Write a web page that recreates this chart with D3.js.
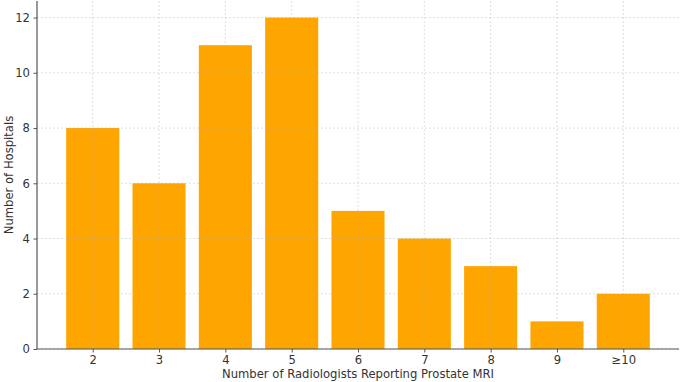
<!DOCTYPE html>
<html>
<head>
<meta charset="utf-8">
<script src="https://cdn.jsdelivr.net/npm/d3@7"></script>
<style>
    body { margin: 0; background: #fff; }
    svg text { font-family: "DejaVu Sans", sans-serif; fill: #333; }
</style>
</head>
<body>
<svg id="bar_chart"></svg>
<script>
// radiologist counts per hospital
const categories = ['2', '3', '4', '5', '6', '7', '8', '9', '≥10']
const hospitals = [8, 6, 11, 12, 5, 4, 3, 1, 2]
const yTicks = [0, 2, 4, 6, 8, 10, 12]

const width = 684
const height = 382
const margins = { top: 1, right: 5, bottom: 33, left: 37 }
const innerW = width - margins.left - margins.right
const innerH = height - margins.top - margins.bottom

const svg = d3.select('#bar_chart')
    .attr('width', width)
    .attr('height', height)

const chart = svg.append('g')
    .attr('transform', `translate(${margins.left}, ${margins.top})`)

// matplotlib-ish limits: bars of width .8 with a small pad
const xScale = d3.scaleLinear()
    .domain([-0.84, categories.length - 1 + 0.84])
    .range([0, innerW])
const yScale = d3.scaleLinear()
    .domain([0, 12.6])
    .range([innerH, 0])

chart.selectAll('.bar')
    .data(hospitals)
    .join('rect')
    .attr('class', 'bar')
    .attr('x', (d, i) => xScale(i - 0.4))
    .attr('width', xScale(0.8) - xScale(0))
    .attr('y', d => yScale(d))
    .attr('height', d => yScale(0) - yScale(d))
    .attr('fill', '#ffa500')

// grid on top, faint
chart.append('g')
    .selectAll('line')
    .data(yTicks)
    .join('line')
    .attr('x1', 0).attr('x2', innerW)
    .attr('y1', d => yScale(d)).attr('y2', d => yScale(d))
    .attr('stroke', '#b0b0b0')
    .attr('stroke-opacity', 0.5)
    .attr('stroke-dasharray', '2,2')
    .attr('stroke-width', 0.8)
chart.append('g')
    .selectAll('line')
    .data(categories)
    .join('line')
    .attr('x1', (d, i) => xScale(i)).attr('x2', (d, i) => xScale(i))
    .attr('y1', 0).attr('y2', innerH)
    .attr('stroke', '#b0b0b0')
    .attr('stroke-opacity', 0.5)
    .attr('stroke-dasharray', '2,2')
    .attr('stroke-width', 0.8)

const xAxis = chart.append('g')
    .attr('transform', `translate(0, ${innerH})`)
    .call(d3.axisBottom(xScale)
        .tickValues(d3.range(categories.length))
        .tickFormat(i => categories[i])
        .tickSize(3.5).tickPadding(3.5))
const yAxis = chart.append('g')
    .call(d3.axisLeft(yScale)
        .tickValues(yTicks)
        .tickSize(3.5).tickPadding(3.5))

for (const ax of [xAxis, yAxis]) {
    ax.select('.domain').attr('stroke', '#555').attr('stroke-width', 1.2)
    ax.selectAll('.tick line').attr('stroke', '#555')
    ax.selectAll('.tick text').attr('font-size', 11.6).style('fill', '#333')
}
// no spine ends beyond data area
xAxis.select('.domain').attr('d', `M0,0H${innerW}`)
yAxis.select('.domain').attr('d', `M0,0V${innerH}`)

svg.append('text')
    .attr('x', margins.left + innerW / 2)
    .attr('y', height - 4)
    .attr('text-anchor', 'middle')
    .attr('font-size', 11.6)
    .text('Number of Radiologists Reporting Prostate MRI')

svg.append('text')
    .attr('transform', `translate(13, ${margins.top + innerH / 2}) rotate(-90)`)
    .attr('text-anchor', 'middle')
    .attr('font-size', 11.6)
    .text('Number of Hospitals')
</script>
</body>
</html>
